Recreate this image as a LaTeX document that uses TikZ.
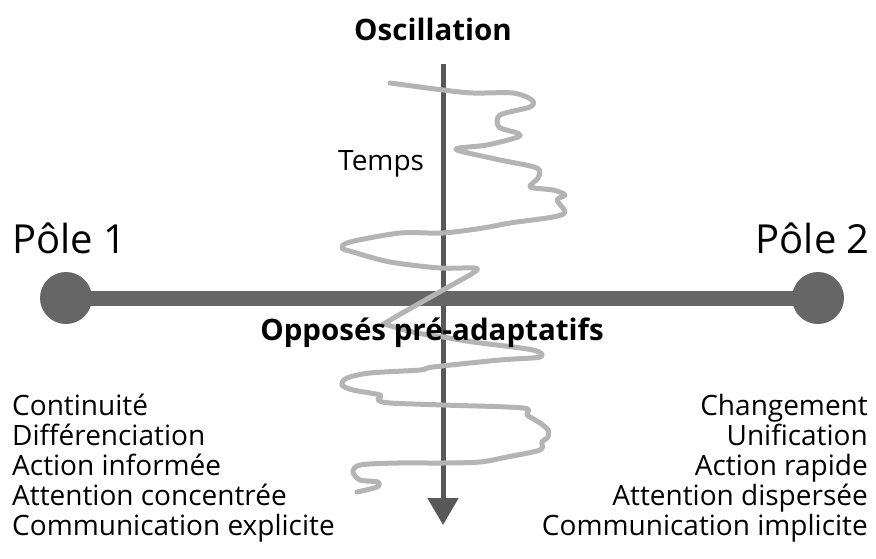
\documentclass[tikz,border=0pt]{standalone}
\usepackage{fontspec}
\setmainfont{Open Sans}
\usetikzlibrary{arrows.meta}
\definecolor{poleGray}{HTML}{666666}
\definecolor{axisGray}{HTML}{585858}
\definecolor{waveGray}{HTML}{B4B4B4}
\begin{document}
\begin{tikzpicture}
[x=1pt,y=-1pt,
  poledecorate/.style={shape=circle,fill=poleGray,minimum size=52pt,inner sep=0pt},%
  bardecorate/.style={-,line width=15pt,draw=poleGray},%
  axisdecorate/.style={-{Triangle[width=30pt,length=27pt]},line width=5pt,draw=axisGray,fill=axisGray},%
  wavedecorate/.style={line width=5pt,draw=waveGray,line join=round,line cap=round},%
  titledecorate/.style={font=\fontsize{29.5}{34}\selectfont\bfseries,inner sep=0pt},%
  poletext/.style={font=\fontsize{40}{48}\selectfont,inner sep=0pt},%
  listtext/.style={font=\fontsize{28}{30}\selectfont,inner sep=0pt}]
\useasboundingbox (0,0) rectangle (876,558);
%% time axis
\coordinate (top) at (443,64);
\coordinate (bottom) at (443,525);
\draw[axisdecorate] (top) -- (bottom);
%% poles and the bar between them
\node (p1) at (66,298) [poledecorate] {};
\node (p2) at (818,298) [poledecorate] {};
\draw[bardecorate] (p1.center) -- (p2.center);
%% oscillation
\draw[wavedecorate] plot[smooth,tension=0.5] coordinates {
  (390,83) (443,90) (473,93) (513,93) (532,100) (530,107) (500,115)
  (499,127) (517,133) (518,137) (487,145) (459,148) (460,151) (500,160)
  (537,168) (538,178) (530,187) (553,190) (565,195) (557,200) (565,212)
  (553,217) (510,223) (483,228) (443,233) (400,233) (350,242) (342,248)
  (353,252) (390,262) (440,268) (475,268) (473,273) (443,290) (387,322)
  (388,325) (417,333) (443,337) (473,342) (533,350) (540,357) (500,360)
  (433,367) (420,370) (370,373) (347,378) (342,385) (353,390) (380,395)
  (378,400) (390,403) (443,405) (523,408) (527,415) (540,423) (548,430)
  (548,437) (542,442) (540,450) (507,457) (480,462) (443,463) (397,463)
  (360,465) (353,472) (360,480) (378,482) (377,487) (357,492)};
%% labels
\node (osc) at (433,40) [titledecorate,anchor=base] {Oscillation};
\node (temps) at (338,170) [listtext,anchor=base west] {Temps};
\node (opp) at (432,340) [titledecorate,anchor=base] {Opposés pré-adaptatifs};
\node (p1label) at (12,253) [poletext,anchor=base west] {Pôle 1};
\node (p2label) at (870,253) [poletext,anchor=base east] {Pôle 2};
%% qualities of each pole
\foreach \itemtext [count=\i] in {Continuité, Différenciation, Action informée,
  Attention concentrée, Communication explicite} {
  \node (left\i) at (12,{385+30*\i}) [listtext,anchor=base west] {\itemtext};
}
\foreach \itemtext [count=\i] in {Changement, Unification, Action rapide,
  Attention dispersée, Communication implicite} {
  \node (right\i) at (868,{385+30*\i}) [listtext,anchor=base east] {\itemtext};
}
\end{tikzpicture}
\end{document}
